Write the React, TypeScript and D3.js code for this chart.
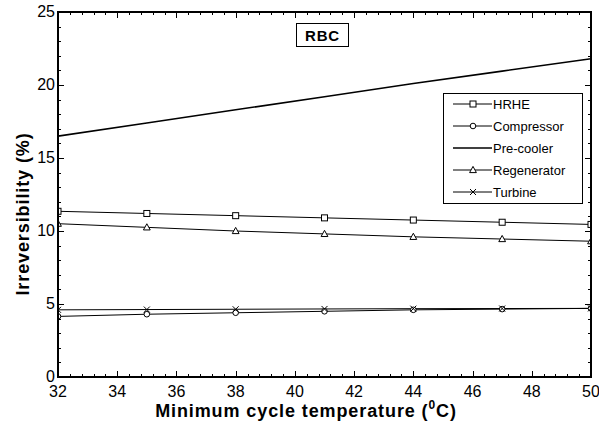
import React, { useEffect, useRef } from 'react';
import * as d3 from 'd3';

const temps = [32, 35, 38, 41, 44, 47, 50];
const hrhe = [11.35, 11.2, 11.05, 10.9, 10.75, 10.6, 10.45];
const compressor = [4.15, 4.3, 4.4, 4.5, 4.6, 4.65, 4.7];
const precooler = [16.5, 17.4, 18.3, 19.2, 20.1, 20.95, 21.8];
const regenerator = [10.5, 10.25, 10.0, 9.8, 9.6, 9.45, 9.3];
const turbine = [4.6, 4.62, 4.64, 4.66, 4.68, 4.69, 4.7];

const xTicks = [32, 34, 36, 38, 40, 42, 44, 46, 48, 50];
const yTicks = [0, 5, 10, 15, 20, 25];

const seriesList = [
    { name: 'HRHE', values: hrhe, marker: 'square', width: 1 },
    { name: 'Compressor', values: compressor, marker: 'circle', width: 1 },
    { name: 'Pre-cooler', values: precooler, marker: 'none', width: 1.6 },
    { name: 'Regenerator', values: regenerator, marker: 'triangle', width: 1 },
    { name: 'Turbine', values: turbine, marker: 'cross', width: 1 },
];

const FONT = 'Arial, "Liberation Sans", Helvetica, sans-serif';

function drawMarker(g, type, x, y)
{
    if (type === 'square')
    {
        g.append('rect').attr('x', x - 3).attr('y', y - 3).attr('width', 6).attr('height', 6)
            .attr('fill', 'white').attr('stroke', 'black').attr('stroke-width', 1);
    }
    else if (type === 'circle')
    {
        g.append('circle').attr('cx', x).attr('cy', y).attr('r', 2.8)
            .attr('fill', 'white').attr('stroke', 'black').attr('stroke-width', 1);
    }
    else if (type === 'triangle')
    {
        g.append('path').attr('d', `M${ x },${ y - 3.6 }L${ x + 3.4 },${ y + 2.6 }L${ x - 3.4 },${ y + 2.6 }Z`)
            .attr('fill', 'white').attr('stroke', 'black').attr('stroke-width', 1);
    }
    else if (type === 'cross')
    {
        g.append('path').attr('d', `M${ x - 3 },${ y - 3 }L${ x + 3 },${ y + 3 }M${ x - 3 },${ y + 3 }L${ x + 3 },${ y - 3 }`)
            .attr('stroke', 'black').attr('stroke-width', 1);
    }
}

export default function App()
{
    const svgRef = useRef(null);

    useEffect(() =>
    {
        const width = 599;
        const height = 424;
        const left = 58, right = 591, top = 12, bottom = 377;

        const svg = d3.select(svgRef.current);
        svg.selectAll('*').remove();
        svg.attr('width', width).attr('height', height);

        const x = d3.scaleLinear().domain([32, 50]).range([left, right]);
        const y = d3.scaleLinear().domain([0, 25]).range([bottom, top]);

        svg.append('rect').attr('width', width).attr('height', height).attr('fill', 'white');

        svg.append('defs').append('clipPath').attr('id', 'plotclip')
            .append('rect').attr('x', left).attr('y', top).attr('width', right - left).attr('height', bottom - top);

        const plot = svg.append('g').attr('clip-path', 'url(#plotclip)');

        seriesList.forEach((s) =>
        {
            const line = d3.line().x((d, i) => x(temps[i])).y((d) => y(d));
            plot.append('path').datum(s.values)
                .attr('fill', 'none').attr('stroke', 'black').attr('stroke-width', s.width)
                .attr('d', line);
        });
        seriesList.forEach((s) =>
        {
            if (s.marker === 'none') return;
            s.values.forEach((v, i) => drawMarker(plot, s.marker, x(temps[i]), y(v)));
        });

        // ticks on all four sides, pointing inward
        const tickG = svg.append('g').attr('stroke', 'black').attr('stroke-width', 1);
        d3.range(32, 50.001, 0.4).forEach((t) =>
        {
            const major = xTicks.some((m) => Math.abs(m - t) < 1e-6);
            const len = major ? 6 : 3;
            const px = Math.round(x(t)) + 0.5;
            tickG.append('line').attr('x1', px).attr('x2', px).attr('y1', bottom).attr('y2', bottom - len);
            tickG.append('line').attr('x1', px).attr('x2', px).attr('y1', top).attr('y2', top + len);
        });
        d3.range(0, 25.001, 1).forEach((t) =>
        {
            const major = t % 5 === 0;
            const len = major ? 6 : 3;
            const py = Math.round(y(t)) + 0.5;
            tickG.append('line').attr('x1', left).attr('x2', left + len).attr('y1', py).attr('y2', py);
            tickG.append('line').attr('x1', right).attr('x2', right - len).attr('y1', py).attr('y2', py);
        });

        svg.append('rect').attr('x', left).attr('y', top).attr('width', right - left).attr('height', bottom - top)
            .attr('fill', 'none').attr('stroke', 'black').attr('stroke-width', 2);

        svg.append('g').selectAll('text').data(xTicks).join('text')
            .attr('x', (d) => x(d)).attr('y', bottom + 20)
            .attr('text-anchor', 'middle').attr('font-family', FONT).attr('font-size', 16)
            .text((d) => d);
        svg.append('g').selectAll('text').data(yTicks).join('text')
            .attr('x', left - 3).attr('y', (d) => y(d) + 5)
            .attr('text-anchor', 'end').attr('font-family', FONT).attr('font-size', 16)
            .text((d) => d);

        const xt = svg.append('text').attr('x', 306).attr('y', 417)
            .attr('text-anchor', 'middle').attr('font-family', FONT).attr('font-size', 18)
            .attr('font-weight', 'bold').attr('letter-spacing', 0.9);
        xt.append('tspan').text('Minimum cycle temperature (');
        xt.append('tspan').attr('font-size', 12).attr('dy', -8).text('0');
        xt.append('tspan').attr('dy', 8).text('C)');

        svg.append('text').attr('transform', 'translate(29,214) rotate(-90)')
            .attr('text-anchor', 'middle').attr('font-family', FONT).attr('font-size', 18)
            .attr('font-weight', 'bold').attr('letter-spacing', 0.9)
            .text('Irreversibility (%)');

        // RBC label box
        svg.append('rect').attr('x', 296.5).attr('y', 23.5).attr('width', 52).attr('height', 23)
            .attr('fill', 'white').attr('stroke', 'black').attr('stroke-width', 1);
        svg.append('text').attr('x', 322.5).attr('y', 40.5).attr('text-anchor', 'middle')
            .attr('font-family', FONT).attr('font-size', 15).attr('font-weight', 'bold')
            .attr('letter-spacing', 0.8).text('RBC');

        // legend
        const lgX = 443, lgY = 93, lgW = 139, rowH = 22;
        const lg = svg.append('g');
        lg.append('rect').attr('x', lgX + 0.5).attr('y', lgY + 0.5).attr('width', lgW).attr('height', rowH * seriesList.length)
            .attr('fill', 'white').attr('stroke', 'black').attr('stroke-width', 1);
        seriesList.forEach((s, i) =>
        {
            const cy = lgY + 11 + i * rowH;
            lg.append('line').attr('x1', lgX + 10).attr('x2', lgX + 49).attr('y1', cy).attr('y2', cy)
                .attr('stroke', 'black').attr('stroke-width', s.width);
            if (s.marker !== 'none') drawMarker(lg, s.marker, lgX + 30, cy);
            lg.append('text').attr('x', lgX + 50).attr('y', cy + 5)
                .attr('font-family', FONT).attr('font-size', 13).text(s.name);
        });
    }, []);

    return (
        <svg ref={ svgRef } style={ { position: 'absolute', left: 0, top: 0 } } />
    );
}
